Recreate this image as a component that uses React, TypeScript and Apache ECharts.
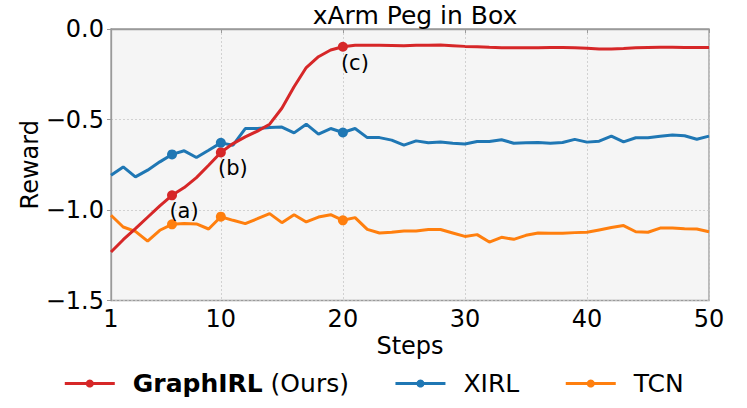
import React, { useEffect, useRef } from "react";
import * as echarts from "echarts";

const steps = [1,2,3,4,5,6,7,8,9,10,11,12,13,14,15,16,17,18,19,20,21,22,23,24,25,26,27,28,29,30,31,32,33,34,35,36,37,38,39,40,41,42,43,44,45,46,47,48,49,50];

const graphirl = [-1.232, -1.164, -1.103, -1.04, -0.977, -0.919, -0.876, -0.821, -0.753, -0.682, -0.633, -0.596, -0.564, -0.526, -0.438, -0.319, -0.213, -0.153, -0.116, -0.098, -0.09, -0.09, -0.09, -0.091, -0.092, -0.09, -0.09, -0.089, -0.092, -0.096, -0.098, -0.101, -0.103, -0.104, -0.104, -0.103, -0.102, -0.102, -0.104, -0.106, -0.11, -0.111, -0.108, -0.104, -0.102, -0.101, -0.101, -0.102, -0.102, -0.102];

const xirl = [-0.808, -0.762, -0.817, -0.78, -0.734, -0.693, -0.673, -0.71, -0.67, -0.629, -0.642, -0.55, -0.55, -0.544, -0.542, -0.574, -0.526, -0.581, -0.55, -0.572, -0.55, -0.6, -0.6, -0.614, -0.642, -0.618, -0.629, -0.624, -0.631, -0.635, -0.622, -0.622, -0.612, -0.631, -0.629, -0.627, -0.631, -0.627, -0.61, -0.625, -0.62, -0.592, -0.624, -0.601, -0.601, -0.592, -0.585, -0.59, -0.609, -0.592];

const tcn = [-1.029, -1.094, -1.118, -1.172, -1.112, -1.079, -1.075, -1.077, -1.105, -1.037, -1.057, -1.075, -1.048, -1.02, -1.07, -1.026, -1.066, -1.039, -1.026, -1.057, -1.042, -1.107, -1.127, -1.123, -1.116, -1.116, -1.108, -1.108, -1.127, -1.146, -1.136, -1.177, -1.151, -1.162, -1.14, -1.127, -1.129, -1.129, -1.125, -1.123, -1.11, -1.097, -1.086, -1.12, -1.123, -1.1, -1.1, -1.103, -1.105, -1.12];

const highlightSteps = [6, 10, 20];
const annotations = ["(a)", "(b)", "(c)"];
const xTicks = [1, 10, 20, 30, 40, 50];
const seriesNames = ["GraphIRL", "XIRL", "TCN"];
const colors = ["#d62728", "#1f77b4", "#ff7f0e"];

const FONT = "DejaVu Sans";

function buildData(values: number[], withLabels: boolean) {
  return steps.map((s, i) => {
    const h = highlightSteps.indexOf(s);
    if (h < 0) return { value: [s, values[i]], symbol: "none" };
    const item: any = { value: [s, values[i]], symbol: "circle", symbolSize: 10 };
    if (withLabels) {
      item.label = {
        show: true,
        position: "inside",
        offset: [12, 16],
        formatter: annotations[h],
        fontSize: 21,
        fontFamily: FONT,
        color: "#000",
      };
    }
    return item;
  });
}

export default function App() {
  const ref = useRef<HTMLDivElement>(null);
  useEffect(() => {
    if (!ref.current) return;
    const chart = echarts.init(ref.current, undefined, { renderer: "svg" });
    const allValues = [graphirl, xirl, tcn];
    chart.setOption({
      animation: false,
      backgroundColor: "#fff",
      title: {
        text: "xArm Peg in Box",
        left: 410,
        textAlign: "center",
        top: -2,
        textStyle: { fontSize: 25, fontWeight: "normal", color: "#000", fontFamily: FONT },
      },
      grid: {
        left: 111,
        right: 38,
        top: 29,
        bottom: 107.5,
        show: true,
        backgroundColor: "#f5f5f5",
        borderColor: "#9a9a9a",
        borderWidth: 1.3,
      },
      legend: {
        top: 366,
        left: "center",
        itemWidth: 50,
        itemHeight: 10,
        itemGap: 45,
        data: seriesNames,
        lineStyle: { width: 3 },
        formatter: (name: string) => (name === "GraphIRL" ? "{b|GraphIRL} (Ours)" : name),
        textStyle: {
          fontSize: 25,
          color: "#000",
          fontFamily: FONT,
          padding: [0, 0, 0, 13],
          rich: { b: { fontWeight: "bold", fontSize: 25, fontFamily: FONT, color: "#000" } },
        },
      },
      xAxis: {
        type: "value",
        min: 1,
        max: 50,
        name: "Steps",
        nameLocation: "middle",
        nameGap: 33,
        nameMoveOverlap: false,
        nameTextStyle: { fontSize: 24, color: "#000", fontFamily: FONT },
        axisLine: { show: true, lineStyle: { color: "#9a9a9a", width: 1.3 } },
        axisTick: { show: true, length: 4, customValues: xTicks, lineStyle: { color: "#9a9a9a" } },
        axisLabel: { customValues: xTicks, fontSize: 24, color: "#000", fontFamily: FONT, margin: 6 },
        splitLine: { show: true, lineStyle: { color: "#c8c8c8", type: [2, 2], width: 0.8 } },
      },
      yAxis: {
        type: "value",
        min: -1.5,
        max: 0,
        interval: 0.5,
        name: "Reward",
        nameLocation: "middle",
        nameGap: 69,
        nameMoveOverlap: false,
        nameTextStyle: { fontSize: 24, color: "#000", fontFamily: FONT },
        axisLine: { show: true, lineStyle: { color: "#9a9a9a", width: 1.3 } },
        axisTick: { show: true, length: 4, lineStyle: { color: "#9a9a9a" } },
        axisLabel: {
          fontSize: 24,
          color: "#000",
          fontFamily: FONT,
          margin: 7,
          formatter: (v: number) => (v < 0 ? "\u2212" : "") + Math.abs(v).toFixed(1),
        },
        splitLine: { show: true, lineStyle: { color: "#c8c8c8", type: [2, 2], width: 0.8 } },
      },
      series: seriesNames.map((name, k) => ({
        name,
        type: "line",
        z: 10 - k,
        symbol: "circle",
        symbolSize: 10,
        showSymbol: true,
        showAllSymbol: true,
        color: colors[k],
        lineStyle: { width: 3, color: colors[k] },
        itemStyle: { color: colors[k] },
        data: buildData(allValues[k], k === 0),
      })),
    });
    return () => chart.dispose();
  }, []);
  return (
    <div
      ref={ref}
      style={{ position: "fixed", left: 0, top: 0, width: 747, height: 408 }}
    />
  );
}
